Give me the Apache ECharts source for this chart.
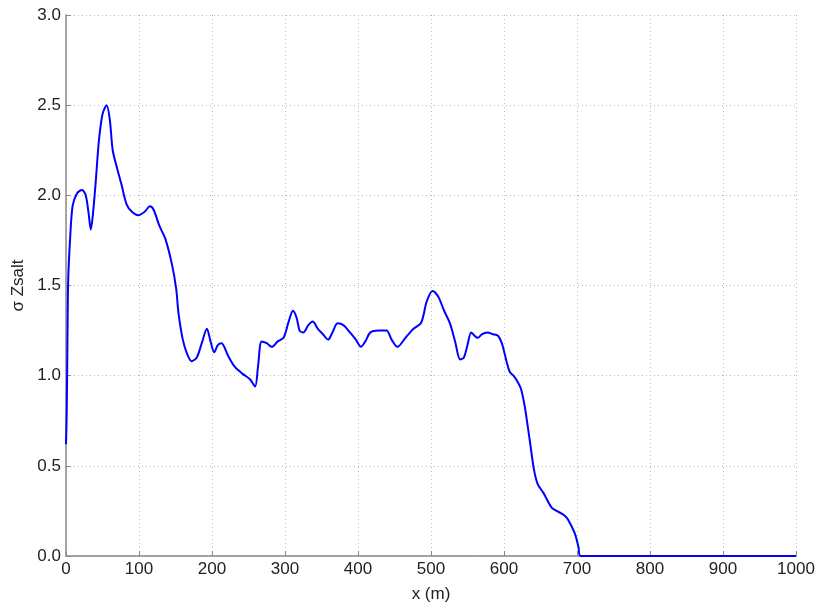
<!DOCTYPE html>
<html>
<head>
<meta charset="utf-8">
<script src="https://cdn.jsdelivr.net/npm/echarts@6/dist/echarts.min.js"></script>
<style>
  html, body { margin: 0; padding: 0; background: #fff; }
  .chart { width: 819px; height: 602px; }
</style>
</head>
<body>
<div class="chart"></div>
<script>
// 数据
var xPos = [0, 1, 2, 3, 5.5, 9, 15, 22, 27, 31, 34, 37, 41, 45, 50, 55.7, 60, 64, 70, 76,
    83, 90, 99, 108, 115, 120, 128, 136, 145, 151, 154, 160, 166, 172, 179, 186, 193, 198, 203, 208,
    213, 222, 231, 242, 252, 259, 263, 268, 275, 282, 290, 298, 305, 311, 316, 320, 325, 332, 338, 345,
    352, 359, 365, 372, 380, 389, 397, 404, 410, 417, 428, 439, 446, 454, 465, 476, 486, 490, 494, 502,
    506, 511, 518, 526, 533, 540, 545, 550, 555, 560, 564, 570, 577, 585, 592, 597, 601, 604, 608, 613,
    618, 623, 627, 630, 636, 641, 646, 654, 665, 672, 679, 684, 688, 697, 702, 705, 1000];
var sigmaZ = [0.62, 0.80, 1.20, 1.53, 1.75, 1.94, 2.01, 2.03, 2.00, 1.90, 1.81, 1.90, 2.09, 2.30, 2.45, 2.50, 2.42, 2.25, 2.15, 2.06,
    1.95, 1.91, 1.89, 1.91, 1.94, 1.92, 1.83, 1.76, 1.62, 1.48, 1.35, 1.20, 1.12, 1.08, 1.10, 1.18, 1.26, 1.19, 1.13, 1.17,
    1.18, 1.11, 1.05, 1.01, 0.98, 0.94, 1.05, 1.19, 1.18, 1.16, 1.19, 1.21, 1.30, 1.36, 1.32, 1.25, 1.24, 1.28, 1.30, 1.26,
    1.23, 1.20, 1.24, 1.29, 1.28, 1.24, 1.20, 1.16, 1.19, 1.24, 1.25, 1.25, 1.20, 1.16, 1.21, 1.26, 1.29, 1.34, 1.41, 1.47,
    1.46, 1.43, 1.36, 1.29, 1.19, 1.09, 1.10, 1.17, 1.24, 1.22, 1.21, 1.23, 1.24, 1.23, 1.22, 1.18, 1.12, 1.07, 1.02, 1.00,
    0.97, 0.93, 0.86, 0.79, 0.62, 0.48, 0.40, 0.35, 0.27, 0.25, 0.235, 0.22, 0.20, 0.125, 0.05, 0, 0];
var xTicks = [0, 1000, 100];
var yTicks = [0, 3, 0.5];

var points = xPos.map(function (x, i) { return [x, sigmaZ[i]]; });

var chart = echarts.init(document.querySelector('.chart'));

var labelFont = { color: '#222', fontSize: 17, fontFamily: 'Liberation Sans' };

var option = {
    animation: false,
    backgroundColor: '#fff',
    grid: { left: 66, right: 23, top: 15, bottom: 46, outerBoundsMode: 'none', containLabel: false },
    xAxis: {
        type: 'value',
        min: xTicks[0], max: xTicks[1], interval: xTicks[2],
        name: 'x (m)',
        nameLocation: 'middle',
        nameGap: 30,
        nameTextStyle: labelFont,
        axisLine: { lineStyle: { color: '#888', width: 1.5 } },
        axisTick: { inside: true, length: 5, lineStyle: { color: '#888' } },
        axisLabel: Object.assign({ margin: 5, formatter: function (v) { return String(v); } }, labelFont),
        splitLine: { show: true, lineStyle: { color: '#bbb', type: [1, 3] } }
    },
    yAxis: {
        type: 'value',
        min: yTicks[0], max: yTicks[1], interval: yTicks[2],
        name: 'σ Zsalt',
        nameLocation: 'middle',
        nameGap: 31,
        nameTextStyle: labelFont,
        axisLine: { show: true, lineStyle: { color: '#888', width: 1.5 } },
        axisTick: { show: true, inside: true, length: 5, lineStyle: { color: '#888' } },
        axisLabel: Object.assign({ margin: 5, formatter: function (v) { return v.toFixed(1); } }, labelFont),
        splitLine: { show: true, lineStyle: { color: '#bbb', type: [1, 3] } }
    },
    series: [
        {
            type: 'line',
            data: points,
            showSymbol: false,
            smooth: 0.3,
            lineStyle: { color: '#0000ff', width: 2 }
        }
    ]
};

chart.setOption(option);
</script>
</body>
</html>
